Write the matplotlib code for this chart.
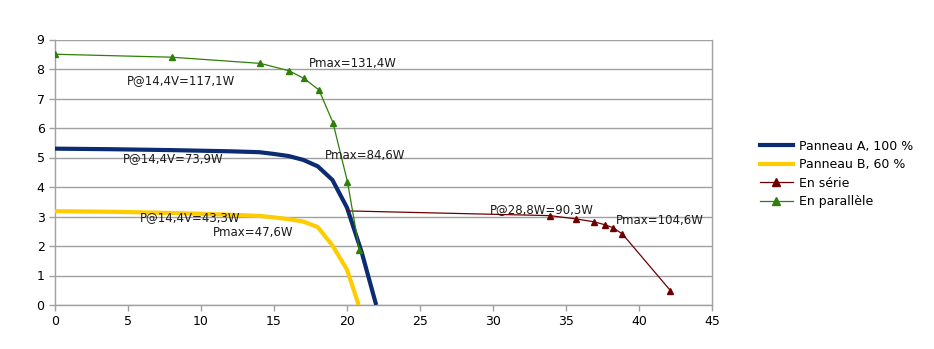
import matplotlib
matplotlib.use("Agg")
import matplotlib.pyplot as plt
from matplotlib.lines import Line2D

# I-V curves (voltage in V, current in A)
volt_a = [0, 4, 8, 12, 14, 15, 16, 17, 18, 19, 20, 21, 22]
curr_a = [5.30, 5.28, 5.25, 5.21, 5.18, 5.12, 5.05, 4.92, 4.70, 4.24, 3.30, 1.80, 0.0]

volt_b = [0, 4, 8, 12, 14, 15, 16, 17, 18, 19, 20, 20.8]
curr_b = [3.18, 3.16, 3.12, 3.06, 3.02, 2.97, 2.91, 2.83, 2.64, 2.02, 1.20, 0.0]

volt_serie = [20.0, 33.88, 35.66, 36.92, 37.67, 38.22, 38.86, 42.15]
curr_serie = [3.19, 3.03, 2.92, 2.82, 2.72, 2.62, 2.41, 0.49]

volt_par = [0, 8.0, 14.07, 16.03, 17.05, 18.08, 19.04, 20.03, 20.85]
curr_par = [8.50, 8.40, 8.19, 7.94, 7.68, 7.29, 6.18, 4.18, 1.86]

labels = ["Panneau A, 100 %", "Panneau B, 60 %", "En série", "En parallèle"]

# annotations: (text, x, y)
notes = [
    ("Pmax=131,4W", 17.4, 8.19),
    ("P@14,4V=117,1W", 4.89, 7.60),
    ("P@14,4V=73,9W", 4.66, 4.97),
    ("Pmax=84,6W", 18.47, 5.08),
    ("P@14,4V=43,3W", 5.80, 2.97),
    ("Pmax=47,6W", 10.78, 2.45),
    ("P@28,8W=90,3W", 29.82, 3.25),
    ("Pmax=104,6W", 38.45, 2.88),
]

c_a = "#0b2c72"
c_b = "#ffcc00"
c_s = "#6e0000"
c_p = "#2f7f0a"
grid_c = "#a0a0a0"

fig = plt.figure(figsize=(9.34, 3.49), dpi=100)
ax = fig.add_axes([55 / 934, 1 - 305 / 349, (712 - 55) / 934, (305 - 39.5) / 349])

ax.plot(volt_a, curr_a, color=c_a, lw=3.0, solid_capstyle="butt", zorder=3)
ax.plot(volt_b, curr_b, color=c_b, lw=3.0, solid_capstyle="butt", zorder=3)
ax.plot(volt_serie, curr_serie, color=c_s, lw=0.9, marker="^", ms=4.2,
        markevery=list(range(1, len(volt_serie))), zorder=4)
ax.plot(volt_par, curr_par, color=c_p, lw=0.9, marker="^", ms=4.2, zorder=4)

for txt, x, y in notes:
    ax.text(x, y, txt, fontsize=8.5, va="center", ha="left", color="#1a1a1a", zorder=5)

ax.set_xlim(0, 45)
ax.set_ylim(0, 9)
ax.set_xticks(range(0, 46, 5))
ax.set_yticks(range(0, 10))
ax.grid(axis="y", color=grid_c, lw=1.0, zorder=0)
ax.set_axisbelow(True)
for side in ["left", "bottom", "right"]:
    ax.spines[side].set_color(grid_c)
    ax.spines[side].set_linewidth(1.0)
ax.spines["top"].set_visible(False)
ax.tick_params(axis="both", colors=grid_c, labelcolor="black", labelsize=9,
               length=4, width=1.0, direction="out")

handles = [
    Line2D([], [], color=c_a, lw=3.0),
    Line2D([], [], color=c_b, lw=3.0),
    Line2D([], [], color=c_s, lw=0.9, marker="^", ms=5.5),
    Line2D([], [], color=c_p, lw=0.9, marker="^", ms=5.5),
]
fig.legend(handles, labels, loc="center left", bbox_to_anchor=(760 / 934, 1 - 174 / 349),
           frameon=False, fontsize=9, handlelength=2.6, handletextpad=0.5,
           labelspacing=0.45, borderpad=0, borderaxespad=0)

fig.savefig("out.png", dpi=100)
